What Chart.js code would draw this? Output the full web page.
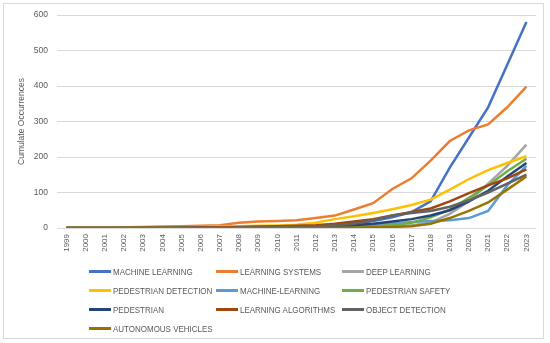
<!DOCTYPE html>
<html>
<head>
<meta charset="utf-8">
<script src="https://cdn.jsdelivr.net/npm/chart.js@4.4.1/dist/chart.umd.min.js"></script>
<style>
    body { margin: 0; background: #fff; }
    #wrap { position: relative; width: 550px; height: 343px; }
    #frame { position: absolute; left: 3px; top: 3px; width: 541px; height: 336px; border: 1px solid #d9d9d9; box-sizing: border-box; }
    #legend { position: absolute; left: 89px; top: 265px; width: 400px; font-family: "Liberation Sans", sans-serif; font-size: 9.5px; color: #595959; }
    .item { position: absolute; white-space: nowrap; height: 14px; line-height: 14px; }
    .swatch { display: inline-block; width: 22px; height: 3px; vertical-align: middle; margin-right: 2px; position: relative; top: -1px; }
    .txt { display: inline-block; transform: scaleX(0.84); transform-origin: left center; }
</style>
</head>
<body>
<div id="wrap">
    <div id="frame"></div>
    <canvas id="chart" width="550" height="343"></canvas>
    <div id="legend"></div>
</div>
<script>
const years = ['1999', '2000', '2001', '2002', '2003', '2004', '2005', '2006', '2007', '2008', '2009', '2010', '2011', '2012',
    '2013', '2014', '2015', '2016', '2017', '2018', '2019', '2020', '2021', '2022', '2023'];

const seriesNames = ['MACHINE LEARNING', 'LEARNING SYSTEMS', 'DEEP LEARNING', 'PEDESTRIAN DETECTION', 'MACHINE-LEARNING',
    'PEDESTRIAN SAFETY', 'PEDESTRIAN', 'LEARNING ALGORITHMS', 'OBJECT DETECTION', 'AUTONOMOUS VEHICLES'];

const seriesColors = ['#4472C4', '#ED7D31', '#A5A5A5', '#FFC000', '#5B9BD5', '#70AD47', '#264478', '#9E480E', '#636363', '#997300'];

const machineLearning = [0, 0, 0, 0, 0, 0, 1, 1, 1, 2, 2, 3, 4, 5, 7, 12, 20, 30, 45, 75, 170, 255, 340, 460, 580];
const learningSystems = [1, 1, 1, 2, 3, 4, 5, 6, 8, 15, 18, 20, 22, 28, 35, 52, 70, 110, 140, 190, 245, 275, 292, 340, 398];
const deepLearning = [0, 0, 0, 0, 0, 0, 0, 0, 0, 0, 0, 0, 1, 1, 2, 2, 3, 5, 8, 15, 40, 75, 125, 175, 235];
const pedestrianDetection = [0, 0, 0, 0, 1, 1, 2, 3, 4, 5, 6, 7, 9, 15, 25, 33, 42, 53, 65, 80, 108, 138, 163, 183, 202];
const machineLearningHyphen = [0, 0, 0, 0, 0, 0, 0, 1, 1, 1, 2, 2, 3, 3, 5, 7, 10, 13, 17, 20, 22, 28, 48, 120, 175];
const pedestrianSafety = [0, 0, 0, 0, 0, 0, 0, 0, 0, 1, 1, 1, 2, 2, 3, 3, 5, 8, 15, 30, 52, 85, 120, 160, 195];
const pedestrian = [0, 0, 0, 0, 0, 0, 1, 1, 1, 1, 2, 2, 3, 4, 6, 8, 12, 18, 25, 35, 50, 75, 105, 145, 183];
const learningAlgorithms = [0, 0, 0, 0, 1, 1, 1, 2, 2, 3, 4, 5, 6, 8, 12, 18, 25, 35, 45, 55, 75, 98, 120, 140, 165];
const objectDetection = [0, 0, 0, 0, 0, 0, 1, 1, 1, 1, 2, 2, 3, 5, 8, 12, 22, 35, 42, 48, 60, 78, 100, 125, 150];
const autonomousVehicles = [0, 0, 0, 0, 0, 0, 0, 0, 0, 0, 0, 0, 0, 0, 1, 1, 2, 3, 5, 12, 28, 48, 72, 108, 145];

const yTicks = [0, 100, 200, 300, 400, 500, 600];

const allSeries = [machineLearning, learningSystems, deepLearning, pedestrianDetection, machineLearningHyphen,
    pedestrianSafety, pedestrian, learningAlgorithms, objectDetection, autonomousVehicles];

const fontFamily = '"Liberation Sans", sans-serif';

// legend in 3 columns like the Excel one
const legend = document.getElementById('legend');
seriesNames.forEach(function (name, i) {
    const item = document.createElement('div');
    item.className = 'item';
    item.style.left = (i % 3) * 126.5 + 'px';
    item.style.top = Math.floor(i / 3) * 19 + 'px';
    item.innerHTML = '<span class="swatch" style="background:' + seriesColors[i] + '"></span><span class="txt">' + name + '</span>';
    legend.appendChild(item);
});

new Chart(document.getElementById('chart'), {
    type: 'line',
    data: {
        labels: years,
        datasets: allSeries.map(function (values, i) {
            return {
                label: seriesNames[i],
                data: values,
                borderColor: seriesColors[i],
                backgroundColor: seriesColors[i],
                borderWidth: 2.5,
                pointRadius: 0,
                tension: 0,
                order: 10 - i
            };
        })
    },
    options: {
        responsive: false,
        animation: false,
        layout: { padding: { left: 0, right: 14, top: 15, bottom: 85 } },
        plugins: {
            legend: { display: false },
            tooltip: { enabled: false }
        },
        scales: {
            x: {
                offset: true,
                grid: { display: false, drawTicks: false },
                border: { display: false },
                ticks: {
                    minRotation: 90,
                    maxRotation: 90,
                    autoSkip: false,
                    padding: 6,
                    color: '#595959',
                    font: { family: fontFamily, size: 8 }
                },
                afterFit: function (scale) { scale.height = 30; }
            },
            y: {
                min: 0,
                max: 600,
                afterBuildTicks: function (scale) {
                    scale.ticks = yTicks.map(v => ({ value: v }));
                },
                grid: { color: '#d9d9d9', lineWidth: 1, drawTicks: false },
                border: { display: false },
                ticks: { padding: 9, color: '#595959', font: { family: fontFamily, size: 8.5 } },
                title: {
                    display: true,
                    text: 'Cumulate Occurrences',
                    color: '#595959',
                    font: { family: fontFamily, size: 8.5 },
                    padding: { top: 17, bottom: 0 }
                },
                afterFit: function (scale) { scale.width = 57; }
            }
        }
    }
});
</script>
</body>
</html>
